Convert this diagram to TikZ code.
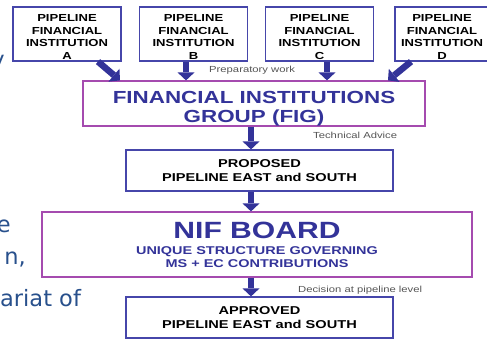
\documentclass[tikz,border=0pt]{standalone}
\usepackage{fontspec}
\usepackage{tikz}
\usetikzlibrary{arrows.meta, calc}
\newfontfamily\diagfont[FakeStretch=1.28]{Liberation Sans}
\newfontfamily\slidefont{DejaVu Sans}
\definecolor{pipeblue}{RGB}{70,70,170}
\definecolor{figpurple}{RGB}{165,75,175}
\definecolor{arrowblue}{RGB}{51,51,153}
\definecolor{notegray}{RGB}{85,85,85}
\definecolor{slideblue}{RGB}{40,80,140}
\tikzstyle{pipe} = [rectangle, draw=pipeblue, line width=1.2pt, fill=white, align=center, minimum width=108pt, minimum height=54pt, inner sep=1pt, font=\diagfont\bfseries\fontsize{10.2}{12.5}\selectfont]
\tikzstyle{outcome} = [pipe, minimum width=267pt, minimum height=41pt, font=\diagfont\bfseries\fontsize{11.4}{14}\selectfont]
\tikzstyle{group} = [rectangle, draw=figpurple, line width=1.2pt, fill=white, align=center, text=arrowblue, inner sep=0pt]
\tikzstyle{line} = [draw=arrowblue, line width=6.5pt, -{Triangle[width=17pt,length=8pt,line width=0pt]}]
\tikzstyle{note} = [text=notegray, inner sep=0pt, font=\diagfont\fontsize{8.8}{10}\selectfont]
\tikzstyle{slide} = [text=slideblue, inner sep=0pt, font=\slidefont\fontsize{22.5}{26}\selectfont]
\newcommand{\pipetext}[1]{\rule{0pt}{13pt}PIPELINE\\FINANCIAL\\INSTITUTION\\#1}

\begin{document}
\begin{tikzpicture}[x=1pt, y=-1pt, node distance=126pt]
    \useasboundingbox (0,0) rectangle (487,338);
    \clip (0,0) rectangle (487,338);
    % Place nodes
    \node [slide, anchor=base east] (fragY) at (5,67) {y};
    \node [slide, anchor=base east] (fragE) at (11,232) {e};
    \node [slide, anchor=base east] (fragN) at (26,264) {n,};
    \node [slide, anchor=base west] (fragS) at (0,306) {ariat of};
    \node [pipe] (pfA) at (67,34) {\pipetext{A}};
    \node [pipe, right of=pfA, node distance=126.5pt] (pfB) {\pipetext{B}};
    \node [pipe, right of=pfB] (pfC) {\pipetext{C}};
    \node [pipe, right of=pfC, node distance=122.5pt, minimum width=94pt] (pfD) {\pipetext{D}};
    \node [group, minimum width=342pt, minimum height=45pt, font=\diagfont\bfseries\fontsize{17.5}{19}\selectfont] (fig) at (254,103.5) {\rule{0pt}{22pt}FINANCIAL INSTITUTIONS\\GROUP (FIG)};
    \node [outcome] (prop) at (259.5,170.5) {PROPOSED\\PIPELINE EAST and SOUTH};
    \node [group, minimum width=430pt, minimum height=65pt, font=\diagfont\bfseries\fontsize{11.3}{13}\selectfont] (nif) at (257,244.5) {{\fontsize{23.5}{24}\selectfont NIF BOARD}\\[3pt]UNIQUE STRUCTURE GOVERNING\\MS + EC CONTRIBUTIONS};
    \node [outcome] (appr) at (259.5,317.5) {APPROVED\\PIPELINE EAST and SOUTH};
    \node [note, anchor=base west] (prep) at (209,72) {Preparatory work};
    \node [note, anchor=base west] (tech) at (313,138) {Technical Advice};
    \node [note, anchor=base west] (dec) at (298,292) {Decision at pipeline level};
    % Draw edges
    \path [line] ([xshift=31pt]pfA.south) -- ([xshift=-134pt]fig.north);
    \path [line] ([xshift=-7.5pt]pfB.south) -- ([xshift=-68pt]fig.north);
    \path [line] ([xshift=7.5pt]pfC.south) -- ([xshift=73pt]fig.north);
    \path [line] ([xshift=-31pt]pfD.south) -- ([xshift=134pt]fig.north);
    \path [line] ([xshift=-3pt]fig.south) -- ([xshift=-8.5pt]prop.north);
    \path [line] ([xshift=-8.5pt]prop.south) -- ([xshift=-6pt]nif.north);
    \path [line] ([xshift=-6pt]nif.south) -- ([xshift=-8.5pt]appr.north);
\end{tikzpicture}
\end{document}
